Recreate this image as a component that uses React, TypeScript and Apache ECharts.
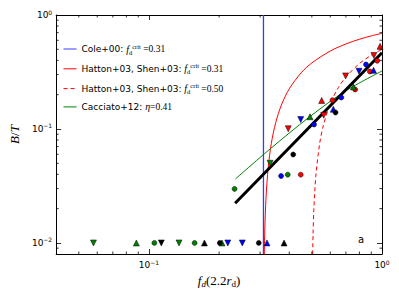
import React, { useEffect, useRef } from 'react';
import * as echarts from 'echarts';

const X_MIN = 0.04;
const X_MAX = 1;
const Y_MIN = 0.008;
const Y_MAX = 1;

// scatter groups [f_d, B/T]
const redCircles = [[0.613, 0.179], [0.767, 0.222], [0.887, 0.3195], [0.954, 0.397], [0.448, 0.0397]];
const redTriUp = [[0.551, 0.178], [0.981, 0.531]];
const redTriDown = [[0.396, 0.1005], [0.562, 0.132], [0.698, 0.292], [0.923, 0.441]];
const blueCircles = [[0.669, 0.189], [0.511, 0.1095], [0.854, 0.368], [0.369, 0.0387]];
const blueTriUp = [[0.618, 0.149], [0.92, 0.327], [0.321, 0.01]];
const blueTriDown = [[0.448, 0.121], [0.797, 0.321], [0.218, 0.01], [0.2515, 0.01]];
const greenCircles = [[0.394, 0.0397], [0.233, 0.0298], [0.1055, 0.01], [0.157, 0.01]];
const greenTriUp = [[0.491, 0.128], [0.754, 0.234], [0.0883, 0.01], [0.2058, 0.01]];
const greenTriDown = [[0.331, 0.05], [0.0578, 0.01], [0.1346, 0.01]];
const blackCircles = [[0.632, 0.1395], [0.416, 0.0597], [0.2014, 0.01], [0.296, 0.01]];
const blackTriUp = [[0.173, 0.01], [0.38, 0.01]];
const blackTriDown = [[0.113, 0.01]];

// model lines
const cole00 = [[0.31, 0.008], [0.31, 1]];
const hatton031 = [
  [0.312, 0.0064], [0.314, 0.0127], [0.318, 0.0252], [0.325, 0.0462], [0.335, 0.0746],
  [0.35, 0.114], [0.37, 0.162], [0.4, 0.225], [0.45, 0.311], [0.5, 0.38], [0.6, 0.483],
  [0.7, 0.557], [0.8, 0.6125], [0.9, 0.656], [1.0, 0.69],
];
const hatton050 = [
  [0.503, 0.006], [0.506, 0.0119], [0.51, 0.0196], [0.52, 0.0385], [0.54, 0.0741], [0.56, 0.107],
  [0.6, 0.167], [0.65, 0.231], [0.7, 0.286], [0.8, 0.375], [0.9, 0.444], [1.0, 0.5],
];
const cacciato = [[0.2349, 0.0364], [0.327, 0.0654], [0.488, 0.1274], [0.697, 0.2154], [1.0, 0.3227]];
const fitLine = [[0.2343, 0.0223], [1.0, 0.467]];

const minorXTicks = [0.05, 0.06, 0.07, 0.08, 0.09, 0.2, 0.3, 0.4, 0.5, 0.6, 0.7, 0.8, 0.9];
const minorYTicks = [0.009, 0.02, 0.03, 0.04, 0.05, 0.06, 0.07, 0.08, 0.09, 0.2, 0.3, 0.4, 0.5, 0.6, 0.7, 0.8, 0.9];

const N_COLE = 'Cole+00';
const N_H31 = 'Hatton+03, Shen+03 (0.31)';
const N_H50 = 'Hatton+03, Shen+03 (0.50)';
const N_CAC = 'Cacciato+12';

const legendLabels: Record<string, string> = {
  [N_COLE]: '{n|Cole+00: }{i|f}{sb|d}{sp|crit}{m| =0.31}',
  [N_H31]: '{n|Hatton+03, Shen+03: }{i|f}{sb|d}{sp|crit}{m| =0.31}',
  [N_H50]: '{n|Hatton+03, Shen+03: }{i|f}{sb|d}{sp|crit}{m| =0.50}',
  [N_CAC]: '{n|Cacciato+12: }{i|η}{m|=0.41}',
};

const SANS = 'DejaVu Sans';
const SERIF = 'Liberation Serif';

const powLabel = (v: number) => {
  const l = Math.log10(v);
  const r = Math.round(l);
  if (Math.abs(l - r) > 1e-6) return '';
  return `{b|10}{s|${r < 0 ? '−' + -r : r}}`;
};

const labelRich = {
  b: { fontSize: 9, lineHeight: 12, fontFamily: SANS, color: '#000' },
  s: { fontSize: 6, lineHeight: 7, verticalAlign: 'top', fontFamily: SANS, color: '#000' },
};

const scatter = (name: string, data: number[][], color: string, symbol: string, rotate = 0) => ({
  type: 'scatter',
  name,
  data,
  symbol,
  symbolRotate: rotate,
  symbolSize: symbol === 'circle' ? 5 : 6,
  itemStyle: { color, borderColor: '#000', borderWidth: 0.5, opacity: 1 },
  z: 5,
});

const line = (name: string, data: number[][], color: string, width: number, type: any = 'solid', smooth: any = false) => ({
  type: 'line',
  name,
  data,
  symbol: 'circle',
  showSymbol: false,
  smooth,
  lineStyle: { color, width, type, opacity: 1 },
  itemStyle: { color },
  z: 3,
});

const tickLine = (x1: number, y1: number, x2: number, y2: number) => ({
  type: 'line',
  shape: { x1, y1, x2, y2 },
  style: { stroke: '#000', lineWidth: 0.8 },
});

const baseAxis = {
  type: 'log',
  logBase: 10,
  axisLine: { show: true, onZero: false, lineStyle: { color: '#000', width: 1 } },
  axisTick: { show: true, inside: true, length: 5, lineStyle: { color: '#000', width: 0.8 } },
  splitLine: { show: false },
  minorTick: { show: false },
};

const option: any = {
  animation: false,
  backgroundColor: '#fff',
  grid: { left: 52, top: 15, width: 330, height: 239, containLabel: false },
  legend: {
    data: [N_COLE, N_H31, N_H50, N_CAC],
    orient: 'vertical',
    left: 63,
    top: 42.5,
    padding: 0,
    itemWidth: 13,
    itemHeight: 10,
    itemGap: 6.8,
    itemStyle: { opacity: 0 },
    lineStyle: { width: 1 },
    formatter: (name: string) => legendLabels[name],
    textStyle: {
      color: '#000',
      fontSize: 9,
      fontFamily: SANS,
      rich: {
        n: { fontSize: 9, lineHeight: 13, fontFamily: SANS, color: '#000' },
        i: { fontSize: 10, lineHeight: 13, fontFamily: SERIF, fontStyle: 'italic', color: '#000' },
        sb: { fontSize: 6.5, lineHeight: 6, verticalAlign: 'bottom', fontFamily: SERIF, color: '#000' },
        sp: { fontSize: 6.5, lineHeight: 6, verticalAlign: 'top', fontFamily: SERIF, color: '#000' },
        m: { fontSize: 9.5, lineHeight: 13, fontFamily: SERIF, color: '#000' },
      },
    },
  },
  xAxis: [
    {
      ...baseAxis,
      position: 'bottom',
      min: X_MIN,
      max: X_MAX,
      axisLabel: { formatter: powLabel, margin: 5, rich: labelRich, showMinLabel: true, showMaxLabel: true },
      name: '{i|f}{sd|d}{n|(2.2}{i|r}{sr|d}{n|)}',
      nameLocation: 'middle',
      nameGap: 15,
      nameTextStyle: {
        rich: {
          i: { fontSize: 13, lineHeight: 15, fontFamily: SERIF, fontStyle: 'italic', color: '#000' },
          n: { fontSize: 13, lineHeight: 15, fontFamily: SERIF, color: '#000' },
          sd: { fontSize: 9, lineHeight: 8, verticalAlign: 'bottom', fontFamily: SERIF, fontStyle: 'italic', color: '#000' },
          sr: { fontSize: 9, lineHeight: 8, verticalAlign: 'bottom', fontFamily: SERIF, color: '#000' },
        },
      },
    },
    {
      ...baseAxis,
      position: 'top',
      min: X_MIN,
      max: X_MAX,
      axisLabel: { show: false },
    },
  ],
  yAxis: [
    {
      ...baseAxis,
      position: 'left',
      min: Y_MIN,
      max: Y_MAX,
      axisLabel: { formatter: powLabel, margin: 4, rich: labelRich, showMinLabel: true, showMaxLabel: true },
      name: '{i|B}{n|/}{i|T}',
      nameLocation: 'middle',
      nameGap: 30,
      nameTextStyle: {
        rich: {
          i: { fontSize: 13, lineHeight: 15, fontFamily: SERIF, fontStyle: 'italic', color: '#000' },
          n: { fontSize: 13, lineHeight: 15, fontFamily: SERIF, color: '#000' },
        },
      },
    },
    {
      ...baseAxis,
      position: 'right',
      min: Y_MIN,
      max: Y_MAX,
      axisLabel: { show: false },
    },
  ],
  graphic: [
    {
      type: 'text',
      left: 358,
      top: 234,
      style: { text: 'a', fontSize: 10, fontFamily: SANS, fill: '#000' },
    },
  ],
  series: [
    line(N_COLE, cole00, '#3a3aff', 1.3),
    line(N_H31, hatton031, '#ff0000', 1, 'solid', 0.3),
    line(N_H50, hatton050, '#ff0000', 1, [4, 3], 0.3),
    line(N_CAC, cacciato, '#008000', 1, 'solid', 0.3),
    { ...line('fit', fitLine, '#000000', 3), z: 4 },
    scatter('redCircles', redCircles, '#ff0000', 'circle'),
    scatter('redTriUp', redTriUp, '#ff0000', 'triangle'),
    scatter('redTriDown', redTriDown, '#ff0000', 'triangle', 180),
    scatter('blueCircles', blueCircles, '#0000ff', 'circle'),
    scatter('blueTriUp', blueTriUp, '#0000ff', 'triangle'),
    scatter('blueTriDown', blueTriDown, '#0000ff', 'triangle', 180),
    scatter('greenCircles', greenCircles, '#008000', 'circle'),
    scatter('greenTriUp', greenTriUp, '#008000', 'triangle'),
    scatter('greenTriDown', greenTriDown, '#008000', 'triangle', 180),
    scatter('blackCircles', blackCircles, '#000000', 'circle'),
    scatter('blackTriUp', blackTriUp, '#000000', 'triangle'),
    scatter('blackTriDown', blackTriDown, '#000000', 'triangle', 180),
    {
      type: 'custom',
      name: 'minorTicks',
      silent: true,
      clip: false,
      z: 10,
      data: [
        ...minorXTicks.map((v) => [v, Y_MIN, 0]),
        ...minorYTicks.map((v) => [X_MIN, v, 1]),
      ],
      encode: { x: 0, y: 1 },
      renderItem: (_params: any, api: any) => {
        const kind = api.value(2);
        if (kind === 0) {
          const v = api.value(0);
          const b = api.coord([v, Y_MIN]);
          const t = api.coord([v, Y_MAX]);
          return {
            type: 'group',
            children: [tickLine(b[0], b[1], b[0], b[1] - 2.5), tickLine(t[0], t[1], t[0], t[1] + 2.5)],
          };
        }
        const v = api.value(1);
        const l = api.coord([X_MIN, v]);
        const r = api.coord([X_MAX, v]);
        return {
          type: 'group',
          children: [tickLine(l[0], l[1], l[0] + 2.5, l[1]), tickLine(r[0], r[1], r[0] - 2.5, r[1])],
        };
      },
    },
  ],
};

export default function App() {
  const ref = useRef<HTMLDivElement>(null);
  useEffect(() => {
    if (!ref.current) return;
    const chart = echarts.init(ref.current, null, { renderer: 'svg' });
    chart.setOption(option);
    return () => chart.dispose();
  }, []);
  return (
    <div
      ref={ref}
      style={{ position: 'absolute', left: 0, top: 0, width: 399, height: 299, background: '#fff' }}
    />
  );
}
